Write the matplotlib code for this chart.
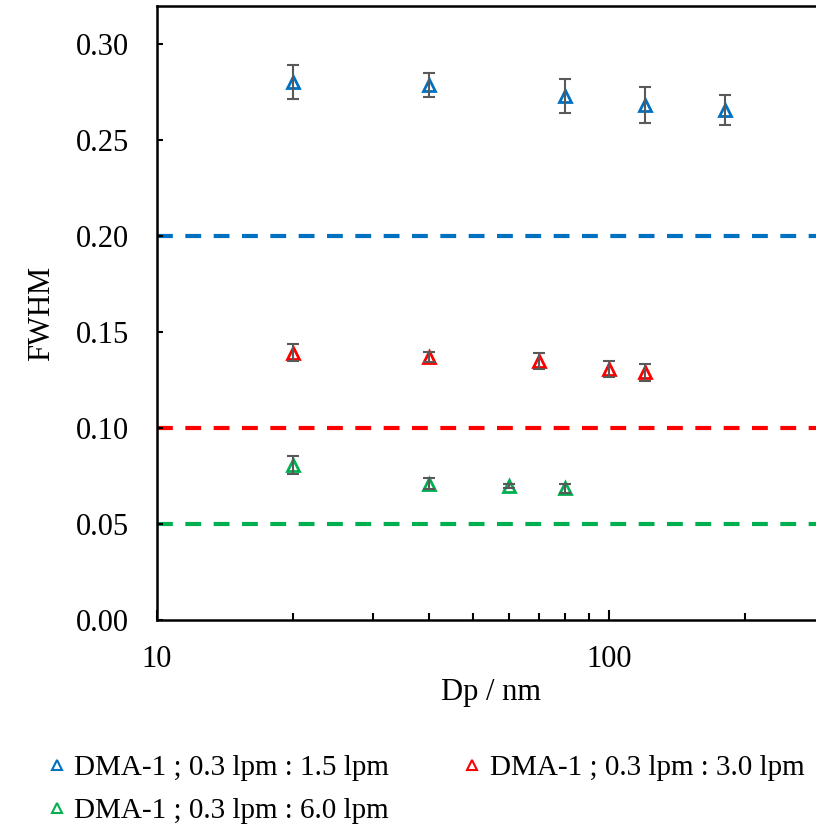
import matplotlib
matplotlib.use("Agg")
import matplotlib.pyplot as plt
from matplotlib.lines import Line2D

plt.rcParams['font.family'] = ['Liberation Serif', 'DejaVu Serif']

# Data
dp_blue = [20, 40, 80, 120, 180]
fwhm_blue = [0.2805, 0.2789, 0.2731, 0.2685, 0.2657]
err_blue = [0.0089, 0.0063, 0.0089, 0.0094, 0.0078]

dp_red = [20, 40, 70, 100, 120]
fwhm_red = [0.1394, 0.1369, 0.1352, 0.1310, 0.1291]
err_red = [0.0042, 0.0026, 0.0042, 0.0042, 0.0043]

dp_green = [20, 40, 60, 80]
fwhm_green = [0.0807, 0.0711, 0.0699, 0.0686]
err_green = [0.0048, 0.0030, 0.0012, 0.0023]

ideal_levels = [0.20, 0.10, 0.05]
labels = ["DMA-1 ; 0.3 lpm : 1.5 lpm",
          "DMA-1 ; 0.3 lpm : 3.0 lpm",
          "DMA-1 ; 0.3 lpm : 6.0 lpm"]
colors = ["#0070C0", "#FF0000", "#00B050"]

fig = plt.figure(figsize=(8.16, 8.31), dpi=100)
W, H = 816, 831
ax = fig.add_axes([157 / W, (H - 620) / H, (825 - 157) / W, (620 - 6) / H])

series = [(dp_blue, fwhm_blue, err_blue), (dp_red, fwhm_red, err_red), (dp_green, fwhm_green, err_green)]
for (x, y, e), c, lev in zip(series, colors, ideal_levels):
    ax.axhline(lev, color=c, lw=3, ls=(0, (3.8, 3.0)), zorder=1)
    ax.plot(x, y, ls='none', marker='^', ms=9, mfc='none', mec=c, mew=2, zorder=3)
    ax.errorbar(x, y, yerr=e, fmt='none', ecolor='#595959', elinewidth=1.5,
                capsize=4.3, capthick=1.5, zorder=4)

ax.set_xscale('log')
ax.set_xlim(10, 300)
ax.set_ylim(0, 0.32)
ax.set_yticks([0, 0.05, 0.10, 0.15, 0.20, 0.25, 0.30])
ax.set_yticklabels([f"{v:.2f}" for v in [0, 0.05, 0.10, 0.15, 0.20, 0.25, 0.30]])
ax.set_xticks([10, 100])
ax.set_xticklabels(["10", "100"])

for s in ax.spines.values():
    s.set_linewidth(1.8)
ax.tick_params(axis='x', which='major', direction='in', length=7, width=1.5, pad=18, labelsize=22)
ax.tick_params(axis='x', which='minor', direction='in', length=5, width=1.5)
ax.tick_params(axis='y', which='major', direction='in', length=4.5, width=1.5, pad=20, labelsize=22)

ax.set_xlabel("Dp / nm", fontsize=22, labelpad=3)
ax.set_ylabel("FWHM", fontsize=22, labelpad=14)

handles = [Line2D([], [], ls='none', marker='^', ms=6.5, mfc='none', mec=c, mew=1.5) for c in colors]
order = [0, 2, 1]
fig.legend([handles[i] for i in order], [labels[i] for i in order], loc='upper left',
           bbox_to_anchor=(48 / W, 1 - 755 / H),
           ncol=2, frameon=False, fontsize=21, handlelength=0.6, handletextpad=0.3,
           columnspacing=2.55, labelspacing=0.55, borderpad=0, borderaxespad=0)

fig.savefig("out.png", dpi=100)
